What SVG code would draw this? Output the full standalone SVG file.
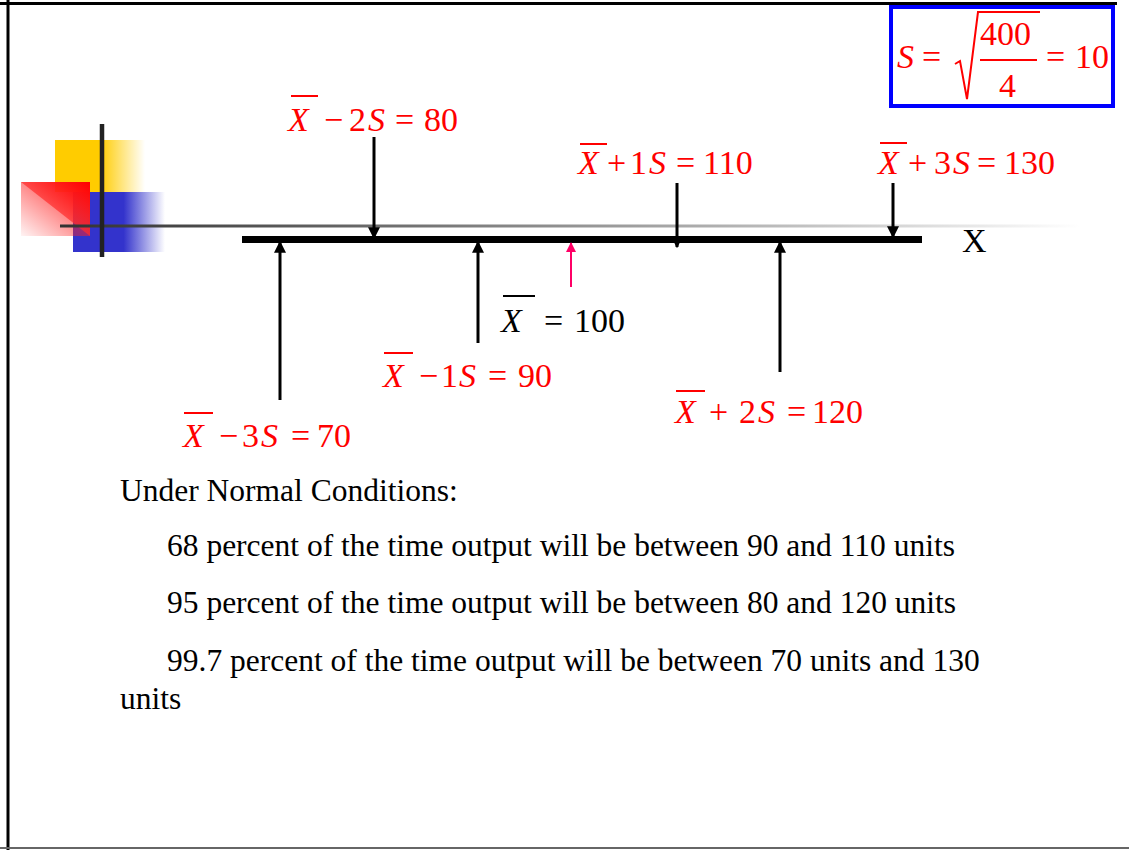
<svg xmlns="http://www.w3.org/2000/svg" width="1129" height="850" viewBox="0 0 1129 850">
<style>
.m{font-family:"Liberation Serif","Times New Roman",serif;font-size:34px;fill:#ff0000}
.i{font-style:italic}
.k{fill:#000}
.b{font-family:"Liberation Serif","Times New Roman",serif;font-size:31.5px;fill:#000}
.ob{stroke:#ff0000;stroke-width:2}
.arr{stroke:#000;stroke-width:3;fill:none}
</style>
<defs>
<marker id="ah" viewBox="0 0 10 10" refX="9" refY="5" markerWidth="4" markerHeight="4" orient="auto" markerUnits="strokeWidth">
<path d="M0,0 L10,5 L0,10 z" fill="#000"/>
</marker>
<marker id="ahp" viewBox="0 0 10 10" refX="9" refY="5" markerWidth="5" markerHeight="5" orient="auto" markerUnits="strokeWidth">
<path d="M0,0 L10,5 L0,10 z" fill="#ff0066"/>
</marker>
<linearGradient id="gy" x1="0" x2="1" y1="0" y2="0">
<stop offset="0" stop-color="#ffcc00"/><stop offset="0.5" stop-color="#ffcc00"/><stop offset="1" stop-color="#ffcc00" stop-opacity="0"/>
</linearGradient>
<linearGradient id="gb" x1="0" x2="1" y1="0" y2="0">
<stop offset="0" stop-color="#3333cc"/><stop offset="0.55" stop-color="#3333cc"/><stop offset="1" stop-color="#3333cc" stop-opacity="0"/>
</linearGradient>
<linearGradient id="gr" x1="1" y1="0" x2="0" y2="1">
<stop offset="0" stop-color="#ff2020"/><stop offset="1" stop-color="#ff2020" stop-opacity="0.05"/>
</linearGradient>
<linearGradient id="gr2" x1="1" y1="0" x2="0.3" y2="0.7">
<stop offset="0" stop-color="#ff0000"/><stop offset="1" stop-color="#ff4040" stop-opacity="0.6"/>
</linearGradient>
<linearGradient id="gl" x1="0" x2="1" y1="0" y2="0">
<stop offset="0" stop-color="#333"/><stop offset="0.2" stop-color="#555"/><stop offset="0.7" stop-color="#bbb"/><stop offset="1" stop-color="#fff"/>
</linearGradient>
</defs>

<g id="page">
<line x1="8" y1="0" x2="8" y2="850" stroke="#000" stroke-width="3"/>
<line x1="0" y1="3.5" x2="1117" y2="3.5" stroke="#000" stroke-width="3"/>
<line x1="0" y1="848" x2="1129" y2="848" stroke="#666" stroke-width="2"/>
</g>

<g id="decoration">
<rect x="55" y="140" width="90" height="52" fill="url(#gy)"/>
<rect x="73" y="192" width="92" height="60" fill="url(#gb)"/>
<rect x="21" y="182" width="69" height="54" fill="url(#gr)"/>
<polygon points="21,182 90,182 90,236" fill="url(#gr2)"/>
<rect x="60" y="224.5" width="1020" height="3" fill="url(#gl)"/>
<line x1="102" y1="124" x2="102" y2="257" stroke="#222" stroke-width="4.5"/>
</g>

<g id="axis">
<line x1="242" y1="239.5" x2="922" y2="239.5" stroke="#000" stroke-width="7"/>
<text x="962" y="252" class="m k">X</text>
</g>

<g id="connectors">
<line class="arr" x1="374" y1="137" x2="374" y2="238" marker-end="url(#ah)"/>
<line class="arr" x1="677" y1="183" x2="677" y2="247" marker-end="url(#ah)"/>
<line class="arr" x1="893" y1="183" x2="893" y2="237" marker-end="url(#ah)"/>
<line class="arr" x1="280" y1="400" x2="280" y2="242" marker-end="url(#ah)"/>
<line class="arr" x1="478" y1="343" x2="478" y2="242" marker-end="url(#ah)"/>
<line class="arr" x1="780" y1="372" x2="780" y2="242" marker-end="url(#ah)"/>
<line x1="571" y1="287" x2="571" y2="243" stroke="#ff0066" stroke-width="2" marker-end="url(#ahp)"/>
</g>

<g id="formula">
<rect x="891" y="7" width="222" height="99" fill="none" stroke="#0000ff" stroke-width="4"/>
<text class="m" y="68"><tspan x="897" class="i">S</tspan><tspan x="922">=</tspan></text>
<polyline points="955,64 960,61 967,99 978,12 1040,12" fill="none" stroke="#ff0000" stroke-width="2"/>
<text class="m" x="980" y="45">400</text>
<line x1="980" y1="60" x2="1037" y2="60" stroke="#ff0000" stroke-width="2"/>
<text class="m" x="999" y="97">4</text>
<text class="m" y="68"><tspan x="1046">=</tspan><tspan x="1075">10</tspan></text>
</g>

<g id="lbl-m2s">
<line class="ob" x1="291" y1="96" x2="318" y2="96"/>
<text class="m" y="131"><tspan x="288" class="i">X</tspan><tspan x="324">−</tspan><tspan x="349">2</tspan><tspan x="368" class="i">S</tspan><tspan x="395">=</tspan><tspan x="424">80</tspan></text>
</g>

<g id="lbl-p1s">
<line class="ob" x1="580" y1="144" x2="607" y2="144"/>
<text class="m" y="174"><tspan x="578" class="i">X</tspan><tspan x="607">+</tspan><tspan x="630">1</tspan><tspan x="649" class="i">S</tspan><tspan x="676">=</tspan><tspan x="703">110</tspan></text>
</g>

<g id="lbl-p3s">
<line class="ob" x1="880" y1="143" x2="907" y2="143"/>
<text class="m" y="174"><tspan x="878" class="i">X</tspan><tspan x="908">+</tspan><tspan x="934">3</tspan><tspan x="953" class="i">S</tspan><tspan x="977">=</tspan><tspan x="1004">130</tspan></text>
</g>

<g id="lbl-mean">
<line x1="503" y1="296" x2="535" y2="296" stroke="#000" stroke-width="2"/>
<text class="m k" y="332"><tspan x="501" class="i">X</tspan><tspan x="544">=</tspan><tspan x="574">100</tspan></text>
</g>

<g id="lbl-m1s">
<line class="ob" x1="384" y1="353" x2="413" y2="353"/>
<text class="m" y="387"><tspan x="383" class="i">X</tspan><tspan x="419">−</tspan><tspan x="441">1</tspan><tspan x="459" class="i">S</tspan><tspan x="488">=</tspan><tspan x="518">90</tspan></text>
</g>

<g id="lbl-m3s">
<line class="ob" x1="184" y1="413" x2="213" y2="413"/>
<text class="m" y="447"><tspan x="183" class="i">X</tspan><tspan x="219">−</tspan><tspan x="242">3</tspan><tspan x="261" class="i">S</tspan><tspan x="291">=</tspan><tspan x="317">70</tspan></text>
</g>

<g id="lbl-p2s">
<line class="ob" x1="676" y1="391" x2="705" y2="391"/>
<text class="m" y="423"><tspan x="675" class="i">X</tspan><tspan x="709">+</tspan><tspan x="739">2</tspan><tspan x="758" class="i">S</tspan><tspan x="787">=</tspan><tspan x="812">120</tspan></text>
</g>

<g id="body">
<text class="b" x="120" y="501">Under Normal Conditions:</text>
<text class="b" x="167" y="556">68 percent of the time output will be between 90 and 110 units</text>
<text class="b" x="167" y="613">95 percent of the time output will be between 80 and 120 units</text>
<text class="b" x="167" y="671">99.7 percent of the time output will be between 70 units and 130</text>
<text class="b" x="120" y="709">units</text>
</g>
</svg>
